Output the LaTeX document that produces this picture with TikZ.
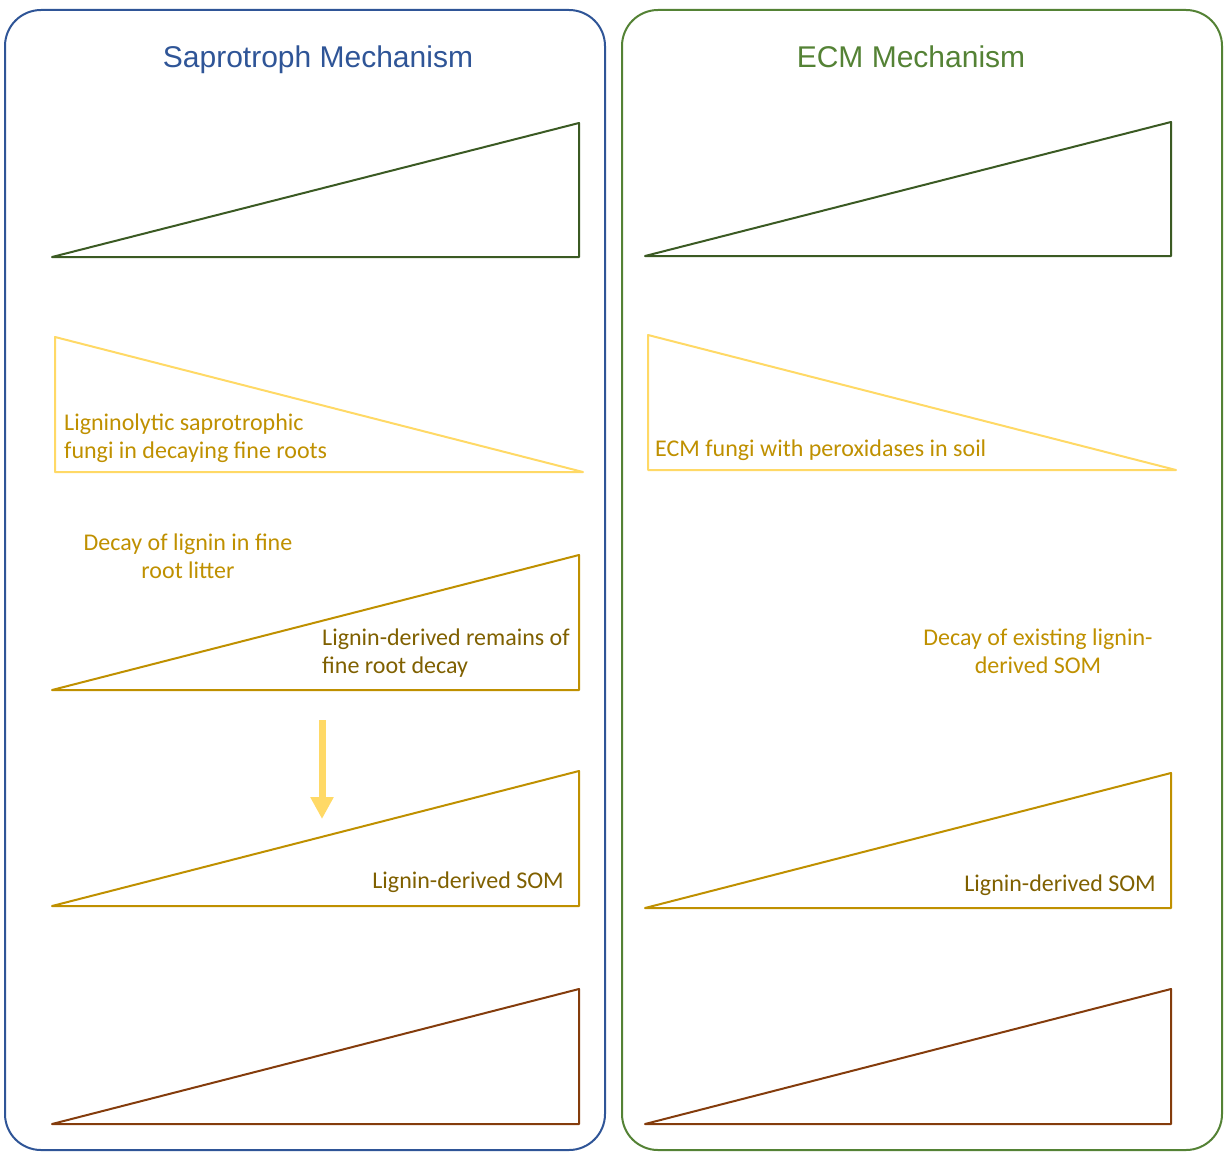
\documentclass[tikz,border=0pt]{standalone}
\usepackage{fontspec}
\setmainfont{Carlito}
\newfontfamily\titlefont{Liberation Sans}
\usetikzlibrary{arrows.meta}
\definecolor{panelblue}{HTML}{2F5597}
\definecolor{panelgreen}{HTML}{548235}
\definecolor{darkgreen}{HTML}{3B5A23}
\definecolor{lightyellow}{HTML}{FFD966}
\definecolor{gold}{HTML}{BF9000}
\definecolor{olive}{HTML}{7F6000}
\definecolor{brown}{HTML}{843C0C}
\tikzset{
  panel/.style={line width=2pt, rounded corners=36pt},
  tri/.style={line width=2pt, line join=round},
  titletext/.style={font=\titlefont\fontsize{30}{34}\selectfont, inner sep=0pt},
  lbl/.style={font=\fontsize{24}{28}\selectfont, inner sep=0pt},
  flowarrow/.style={line width=7pt, color=lightyellow, -{Triangle[width=22pt,length=22pt]}},
}
\begin{document}
\begin{tikzpicture}[x=1pt,y=-1pt]
\useasboundingbox (0,0) rectangle (1225,1153);
% panels
\draw[panel, panelblue] (5,10) rectangle (605,1150);
\draw[panel, panelgreen] (622,10) rectangle (1222,1150);
\node[titletext, text=panelblue, anchor=base] (t1) at (318,68) {Saprotroph Mechanism};
\node[titletext, text=panelgreen, anchor=base] (t2) at (911,68) {ECM Mechanism};
% left triangles
\draw[tri, darkgreen] (52,257) -- (579,123) -- (579,257) -- cycle;
\draw[tri, lightyellow] (55,337) -- (583,472) -- (55,472) -- cycle;
\draw[tri, gold] (52,690) -- (579,555) -- (579,690) -- cycle;
\draw[tri, gold] (52,906) -- (579,771) -- (579,906) -- cycle;
\draw[tri, brown] (52,1124) -- (579,989) -- (579,1124) -- cycle;
% right triangles
\draw[tri, darkgreen] (645,256) -- (1171,122) -- (1171,256) -- cycle;
\draw[tri, lightyellow] (648,335) -- (1176,470) -- (648,470) -- cycle;
\draw[tri, gold] (645,908) -- (1171,773) -- (1171,908) -- cycle;
\draw[tri, brown] (645,1124) -- (1171,989) -- (1171,1124) -- cycle;
% labels left
\node[lbl, text=gold, align=left, anchor=west] (l1) at (64,438) {Ligninolytic saprotrophic\\fungi in decaying fine roots};
\node[lbl, text=gold, align=center] (l2) at (188,556) {Decay of lignin in fine\\root litter};
\node[lbl, text=olive, align=left, anchor=west] (l3) at (322,653) {Lignin-derived remains of\\fine root decay};
\node[lbl, text=olive, anchor=east] (l4) at (564,882) {Lignin-derived SOM};
% labels right
\node[lbl, text=gold, anchor=west] (r1) at (655,450) {ECM fungi with peroxidases in soil};
\node[lbl, text=gold, align=center] (r2) at (1038,651) {Decay of existing lignin-\\derived SOM};
\node[lbl, text=olive, anchor=east] (r3) at (1156,885) {Lignin-derived SOM};
% arrow
\coordinate (a1) at (322,720);
\coordinate (a2) at (322,819);
\draw[flowarrow] (a1) -- (a2);
\end{tikzpicture}
\end{document}
